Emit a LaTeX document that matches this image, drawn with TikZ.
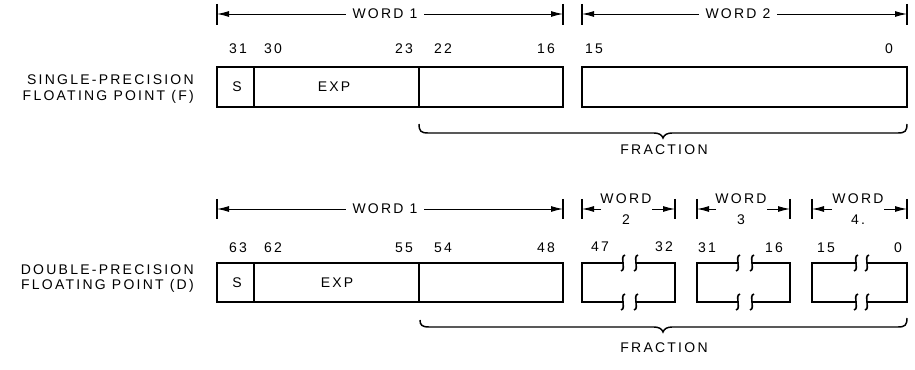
\documentclass[tikz,border=0pt]{standalone}
\usepackage{fontspec}
\setmainfont{Liberation Sans}
\newfontfamily\lbl[LetterSpace=16]{Liberation Sans}
\usetikzlibrary{arrows.meta}
\begin{document}
\begin{tikzpicture}[x=0.75pt,y=-0.75pt,
  txt/.style={font=\lbl\fontsize{10.5}{15.5}\selectfont, inner sep=0pt},
  dtxt/.style={txt, inner xsep=5pt},
  fld/.style={draw, line width=1.5pt, line join=miter},
  brk/.style={line width=1.2pt},
  tickline/.style={line width=0.9pt},
  dim/.style={line width=0.7pt, -{Latex[length=9pt,width=4.5pt]}},
  brc/.style={line width=1.1pt},
]
\useasboundingbox (0,0) rectangle (915,370);

% ---------------- SINGLE PRECISION ----------------
\node[txt, anchor=east] (sl1) at (194,80) {SINGLE-PRECISION};
\node[txt, anchor=east] (sl2) at (194,97) {FLOATING POINT (F)};

% dimension lines
\foreach \x/\n in {217/a,563/b,582/c,907/d}{
  \draw[tickline] (\x,4) -- (\x,25);
  \coordinate (T\n) at (\x,14);
}
\node[dtxt] (sw1) at (385,14) {WORD 1};
\node[dtxt] (sw2) at (738,14) {WORD 2};
\draw[dim] (sw1.west) -- (Ta);
\draw[dim] (sw1.east) -- (Tb);
\draw[dim] (sw2.west) -- (Tc);
\draw[dim] (sw2.east) -- (Td);

% bit numbers
\node[txt] (n31) at (238,49) {31};
\node[txt] (n30) at (273,49) {30};
\node[txt] (n23) at (404,49) {23};
\node[txt] (n22) at (443,49) {22};
\node[txt] (n16) at (546,49) {16};
\node[txt] (n15) at (594,49) {15};
\node[txt] (n0)  at (889,49) {0};

% fields
\draw[fld] (217,67) rectangle (563,107);
\draw[fld] (254,67) -- (254,107);
\draw[fld] (419,67) -- (419,107);
\draw[fld] (582,67) rectangle (907,107);
\node[txt] (ss) at (237,87) {S};
\node[txt] (se) at (334,87) {EXP};

% brace
\draw[brc] (419,124) .. controls (419,131) and (421,133) .. (428,133)
  -- (654,133) .. controls (659,133) and (662,135) .. (663,138)
  .. controls (664,135) and (667,133) .. (672,133)
  -- (898,133) .. controls (905,133) and (907,131) .. (907,124);
\node[txt] (sf) at (664,150) {FRACTION};

% ---------------- DOUBLE PRECISION ----------------
\node[txt, anchor=east] (dl1) at (194,270) {DOUBLE-PRECISION};
\node[txt, anchor=east] (dl2) at (194,286) {FLOATING POINT (D)};

\foreach \x/\n in {217/a,563/b,582/c,675/d,697/e,790/f,812/g,907/h}{
  \draw[tickline] (\x,199) -- (\x,219);
  \coordinate (D\n) at (\x,209);
}
\node[dtxt] (dw1) at (385,209) {WORD 1};
\draw[dim] (dw1.west) -- (Da);
\draw[dim] (dw1.east) -- (Db);

\node[txt, align=center] (dw2) at (626,209) {WORD\\2};
\node[txt, align=center] (dw3) at (741,209) {WORD\\3};
\node[txt, align=center] (dw4) at (858,209) {WORD\\4.};
\draw[dim] (601,209) -- (Dc);
\draw[dim] (652,209) -- (Dd);
\draw[dim] (716,209) -- (De);
\draw[dim] (767,209) -- (Df);
\draw[dim] (832,209) -- (Dg);
\draw[dim] (884,209) -- (Dh);

% bit numbers
\node[txt] (m63) at (238,248) {63};
\node[txt] (m62) at (273,248) {62};
\node[txt] (m55) at (404,248) {55};
\node[txt] (m54) at (443,248) {54};
\node[txt] (m48) at (546,248) {48};
\node[txt] (m47) at (600,247) {47};
\node[txt] (m32) at (664,247) {32};
\node[txt] (m31) at (707,248) {31};
\node[txt] (m16) at (774,248) {16};
\node[txt] (m15) at (826,248) {15};
\node[txt] (m0)  at (898,248) {0};

% fields
\draw[fld] (217,263) rectangle (563,302);
\draw[fld] (254,263) -- (254,302);
\draw[fld] (419,263) -- (419,302);
\node[txt] (ds) at (237,283) {S};
\node[txt] (de) at (337,283) {EXP};

% broken word boxes
\foreach \L/\a/\b/\R in {582/623/636/675, 697/738/752/790, 812/856/867/907}{
  \draw[fld] (\a,263) -- (\L,263) -- (\L,302) -- (\a,302);
  \draw[fld] (\b,263) -- (\R,263) -- (\R,302) -- (\b,302);
  \foreach \y in {263,302}{
    \draw[brk] (\a+2,\y-8) .. controls (\a-1.5,\y-7) and (\a,\y-3) .. (\a,\y)
      .. controls (\a,\y+3) and (\a+1.5,\y+7) .. (\a-2,\y+8);
    \draw[brk] (\b+2,\y-8) .. controls (\b-1.5,\y-7) and (\b,\y-3) .. (\b,\y)
      .. controls (\b,\y+3) and (\b+1.5,\y+7) .. (\b-2,\y+8);
  }
}

% brace
\draw[brc] (420,320) .. controls (420,325) and (422,327) .. (429,327)
  -- (654,327) .. controls (659,327) and (662,329) .. (663,332)
  .. controls (664,329) and (667,327) .. (672,327)
  -- (898,327) .. controls (905,327) and (907,325) .. (907,318);
\node[txt] (df) at (664,348) {FRACTION};
\end{tikzpicture}
\end{document}
